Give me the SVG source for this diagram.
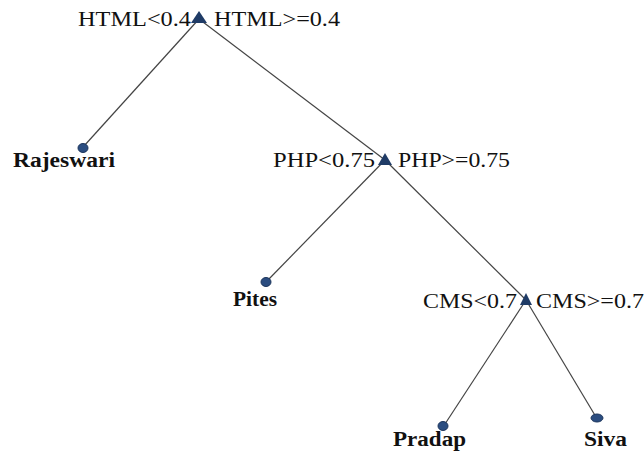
<svg xmlns="http://www.w3.org/2000/svg" width="644" height="452" viewBox="0 0 644 452">
<style>
.lbl{font-family:"Liberation Serif","Times New Roman",serif;font-size:20px;fill:#111;}
.leaf{font-family:"Liberation Serif","Times New Roman",serif;font-size:20px;font-weight:bold;fill:#111;}
.edge{stroke:#444;stroke-width:1.2;fill:none;}
.tri{fill:#1f3b66;}
.dot{fill:#2b4d80;stroke:#1c355c;stroke-width:1;}
</style>
<rect width="644" height="452" fill="#fff"/>
<g id="connectors">
<line class="edge" x1="199" y1="19" x2="84" y2="146"/>
<line class="edge" x1="199" y1="19" x2="385" y2="160"/>
<line class="edge" x1="385" y1="160" x2="268" y2="280"/>
<line class="edge" x1="385" y1="160" x2="526" y2="300"/>
<line class="edge" x1="526" y1="300" x2="445" y2="424"/>
<line class="edge" x1="526" y1="300" x2="596" y2="417"/>
</g>
<g id="root">
<polygon class="tri" points="199,11 191,23 207,23"/>
<text class="lbl" x="78" y="26" textLength="113" lengthAdjust="spacingAndGlyphs">HTML&lt;0.4</text>
<text class="lbl" x="214" y="26" textLength="126" lengthAdjust="spacingAndGlyphs">HTML&gt;=0.4</text>
</g>
<g id="php">
<polygon class="tri" points="385,153 378,165 392,165"/>
<text class="lbl" x="273" y="167" textLength="102" lengthAdjust="spacingAndGlyphs">PHP&lt;0.75</text>
<text class="lbl" x="398" y="167" textLength="112" lengthAdjust="spacingAndGlyphs">PHP&gt;=0.75</text>
</g>
<g id="cms">
<polygon class="tri" points="526,293 520,305 532,305"/>
<text class="lbl" x="423" y="308" textLength="94" lengthAdjust="spacingAndGlyphs">CMS&lt;0.7</text>
<text class="lbl" x="536" y="308" textLength="108" lengthAdjust="spacingAndGlyphs">CMS&gt;=0.7</text>
</g>
<g id="rajeswari">
<ellipse class="dot" cx="83" cy="148" rx="5" ry="4.5"/>
<text class="leaf" x="13" y="167" textLength="102" lengthAdjust="spacingAndGlyphs">Rajeswari</text>
</g>
<g id="pites">
<ellipse class="dot" cx="266" cy="282" rx="5" ry="4.5"/>
<text class="leaf" x="233" y="306" textLength="44" lengthAdjust="spacingAndGlyphs">Pites</text>
</g>
<g id="pradap">
<ellipse class="dot" cx="443" cy="426" rx="5" ry="4.5"/>
<text class="leaf" x="393" y="446" textLength="73" lengthAdjust="spacingAndGlyphs">Pradap</text>
</g>
<g id="siva">
<ellipse class="dot" cx="597" cy="418" rx="6" ry="4"/>
<text class="leaf" x="584" y="446" textLength="43" lengthAdjust="spacingAndGlyphs">Siva</text>
</g>
</svg>
